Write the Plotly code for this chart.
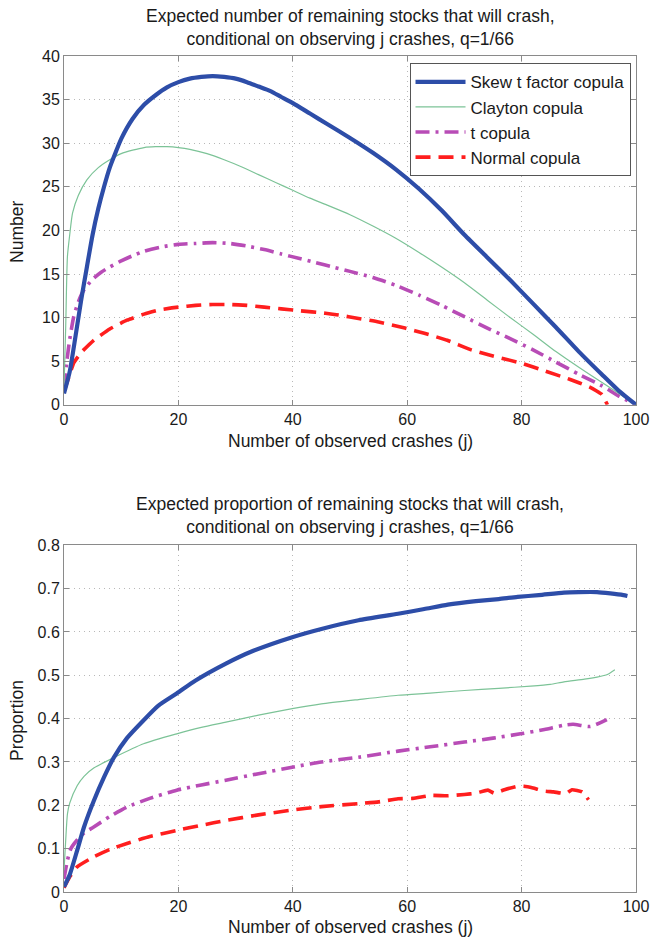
import plotly.graph_objects as go

# ---------------- Top panel data: expected number ----------------
skew_x_top = [0, 1, 2, 3, 4, 5, 6, 7, 8, 9, 10, 12, 14, 16, 18, 20, 22, 24, 26, 28, 30, 32, 34, 36, 38, 40,
              43, 46, 50, 54, 58, 62, 66, 70, 74, 78, 82, 86, 90, 94, 97, 100]
skew_y_top = [1.3, 3.8, 7.8, 12.0, 15.8, 19.5, 22.5, 25.0, 27.2, 28.9, 30.5, 32.8, 34.4, 35.5, 36.4, 37.0, 37.4,
              37.6, 37.7, 37.6, 37.4, 37.0, 36.5, 36.0, 35.3, 34.6, 33.4, 32.2, 30.6, 28.9, 27.0, 24.8, 22.3,
              19.5, 16.9, 14.3, 11.6, 8.9, 6.1, 3.5, 1.6, 0.0]

clay_x_top = [0, 0.3, 0.6, 1, 1.5, 2.5, 4, 6, 8, 10, 12, 14, 16, 18, 20, 22, 25, 28, 31, 34, 37, 40, 43, 46,
              50, 54, 58, 62, 66, 70, 74, 78, 82, 86, 90, 94, 97, 100]
clay_y_top = [2.0, 9.0, 17.0, 19.5, 22.0, 24.0, 25.8, 27.2, 28.1, 28.8, 29.2, 29.5, 29.6, 29.6, 29.5, 29.3,
              28.8, 28.1, 27.3, 26.4, 25.5, 24.6, 23.7, 22.9, 21.8, 20.5, 19.1, 17.5, 15.8, 14.0, 12.0, 10.0,
              8.1, 6.1, 4.3, 2.6, 1.3, 0.0]

tcop_x_top = [0, 0.5, 1, 1.7, 2.5, 3.5, 5, 6.5, 8, 10, 12, 14, 17, 20, 23, 26, 29, 32, 35, 38, 41, 44, 47, 50,
              54, 58, 62, 66, 70, 74, 78, 82, 86, 90, 94, 97, 100]
tcop_y_top = [2.0, 5.0, 7.5, 10.1, 11.8, 13.2, 14.4, 15.2, 15.8, 16.5, 17.1, 17.6, 18.1, 18.4, 18.5, 18.6,
              18.5, 18.2, 17.8, 17.3, 16.8, 16.3, 15.8, 15.3, 14.6, 13.7, 12.6, 11.4, 10.1, 8.8, 7.6, 6.3,
              4.9, 3.5, 2.2, 1.0, 0.0]

norm_x_top = [0, 1, 1.7, 3, 5.2, 8, 11, 14, 16.8, 20, 23, 26, 29, 32, 35, 38, 41, 45.7, 48, 51.5, 55, 59.6,
              63, 67, 71.2, 75, 79.8, 84, 88.5, 92, 94, 95]
norm_y_top = [1.5, 3.5, 4.8, 6.0, 7.4, 8.7, 9.7, 10.4, 10.9, 11.2, 11.4, 11.5, 11.5, 11.4, 11.2, 11.0, 10.8,
              10.5, 10.3, 9.9, 9.5, 8.8, 8.2, 7.4, 6.3, 5.6, 4.8, 3.9, 2.9, 2.0, 1.2, 0.0]

# ---------------- Bottom panel data: expected proportion ----------------
skew_x_bot = [0, 1, 2.3, 3.5, 5.2, 7, 8.7, 11, 13.9, 16.5, 19.7, 23, 28.3, 33, 39.9, 45, 51.5, 58.4, 63,
              67.1, 72, 76, 79.3, 83, 87.4, 90, 93.2, 95.5, 97.8, 98.5]
skew_y_bot = [0.012, 0.04, 0.096, 0.15, 0.21, 0.265, 0.31, 0.355, 0.396, 0.43, 0.458, 0.488, 0.527, 0.556,
              0.588, 0.607, 0.627, 0.642, 0.653, 0.663, 0.671, 0.676, 0.681, 0.685, 0.691, 0.692, 0.692,
              0.689, 0.685, 0.683]

clay_x_bot = [0, 0.3, 0.6, 1, 2.3, 3.5, 5.2, 8.7, 13.9, 19.7, 24, 28.3, 34, 39.9, 45, 51.5, 58.4, 64, 70,
              76, 81.6, 85, 87.4, 91, 93.2, 95, 96.3]
clay_y_bot = [0.05, 0.12, 0.18, 0.205, 0.245, 0.267, 0.286, 0.31, 0.342, 0.365, 0.38, 0.392, 0.408, 0.423,
              0.434, 0.444, 0.454, 0.459, 0.465, 0.47, 0.475, 0.479, 0.485, 0.491, 0.496, 0.502, 0.513]

tcop_x_bot = [0, 0.6, 1.2, 2.3, 3.5, 5.2, 8, 11, 15, 19.7, 24, 28.3, 34, 39.9, 45, 51.5, 58.4, 64, 70, 75,
              79.8, 84, 87.4, 89, 92, 94.9]
tcop_y_bot = [0.03, 0.073, 0.1, 0.12, 0.136, 0.15, 0.174, 0.196, 0.216, 0.235, 0.247, 0.258, 0.273, 0.288,
              0.3, 0.311, 0.325, 0.335, 0.346, 0.355, 0.365, 0.375, 0.385, 0.387, 0.382, 0.398]

norm_x_bot = [0, 1, 2.3, 5.2, 8, 11, 15, 19.7, 24, 28.3, 34, 39.9, 45, 51.5, 55, 58.4, 61, 64.2, 67, 70, 72,
              74.1, 75.2, 77, 79.3, 80.4, 82, 83.9, 85.6, 87.7, 88.8, 90.6, 91.7]
norm_y_bot = [0.01, 0.035, 0.058, 0.081, 0.098, 0.112, 0.128, 0.142, 0.154, 0.165, 0.178, 0.189, 0.197,
              0.204, 0.208, 0.215, 0.216, 0.223, 0.222, 0.225, 0.228, 0.235, 0.228, 0.236, 0.244, 0.244,
              0.240, 0.233, 0.231, 0.227, 0.236, 0.231, 0.213]

series_names = ["Skew t factor copula", "Clayton copula", "t copula", "Normal copula"]
x_ticks = [0, 20, 40, 60, 80, 100]
y_ticks_top = [0, 5, 10, 15, 20, 25, 30, 35, 40]
y_ticks_bot = [0, 0.1, 0.2, 0.3, 0.4, 0.5, 0.6, 0.7, 0.8]
y_ticklabels_bot = ["0", "0.1", "0.2", "0.3", "0.4", "0.5", "0.6", "0.7", "0.8"]

title_top = "Expected number of remaining stocks that will crash,<br>conditional on observing j crashes, q=1/66"
title_bot = "Expected proportion of remaining stocks that will crash,<br>conditional on observing j crashes, q=1/66"
xlabel = "Number of observed crashes (j)"

W, H = 651, 941
FONT = "Liberation Sans"
TXT = "#1a1a1a"

# plot-area box in pixels (left, right, top, bottom)
PL, PR, PT, PB = 63.5, 636.5, 55.7, 891.7
PW, PH = PR - PL, PB - PT


def fx(px):
    return (px - PL) / PW


def fy(py):
    return (PB - py) / PH


styles = [
    dict(color="#2D4DA8", width=4.2, dash="solid", shape="spline", smoothing=0.6),
    dict(color="#7CC397", width=1.2, dash="solid", shape="spline", smoothing=0.6),
    dict(color="#B84CB6", width=3.6, dash="14px,6px,3px,6px", shape="spline", smoothing=0.6),
    dict(color="#FF1E1E", width=3.6, dash="15px,8px", shape="spline", smoothing=0.4),
]

top_data = [(skew_x_top, skew_y_top), (clay_x_top, clay_y_top), (tcop_x_top, tcop_y_top), (norm_x_top, norm_y_top)]
bot_data = [(skew_x_bot, skew_y_bot), (clay_x_bot, clay_y_bot), (tcop_x_bot, tcop_y_bot), (norm_x_bot, norm_y_bot)]

fig = go.Figure()
order = [3, 2, 1, 0]
for i in order:
    xs, ys = top_data[i]
    fig.add_trace(go.Scatter(x=xs, y=ys, mode="lines", name=series_names[i], line=styles[i],
                             xaxis="x", yaxis="y", legendrank=i + 1, showlegend=True))
for i in order:
    xs, ys = bot_data[i]
    fig.add_trace(go.Scatter(x=xs, y=ys, mode="lines", name=series_names[i], line=styles[i],
                             xaxis="x2", yaxis="y2", showlegend=False))

top_dom = [fy(404.5), 1.0]
bot_dom = [0.0, fy(545.0)]

axis_common = dict(
    showline=True, linecolor="#8a8a8a", linewidth=1, mirror="ticks",
    ticks="inside", ticklen=5, tickcolor="#8a8a8a",
    showgrid=True, gridcolor="#b8b8b8", griddash="1px,4px", gridwidth=1,
    zeroline=False, tickfont=dict(family=FONT, size=16, color=TXT),
    automargin=False, ticklabeloverflow="allow",
)

fig.update_layout(
    width=W, height=H,
    margin=dict(l=PL, r=W - PR, t=PT, b=H - PB, autoexpand=False),
    paper_bgcolor="white", plot_bgcolor="white",
    font=dict(family=FONT, size=17, color=TXT),
    xaxis=dict(domain=[0, 1], range=[0, 100], tickvals=x_ticks, anchor="y", **axis_common),
    yaxis=dict(domain=top_dom, range=[0, 40], tickvals=y_ticks_top, anchor="x", **axis_common),
    xaxis2=dict(domain=[0, 1], range=[0, 100], tickvals=x_ticks, anchor="y2", **axis_common),
    yaxis2=dict(domain=bot_dom, range=[0, 0.8], tickvals=y_ticks_bot, ticktext=y_ticklabels_bot,
                anchor="x2", **axis_common),
    legend=dict(x=fx(631), xanchor="right", y=fy(63), yanchor="top",
                bgcolor="white", bordercolor="#555", borderwidth=1,
                font=dict(family=FONT, size=17, color=TXT),
                tracegroupgap=0, itemwidth=50),
    showlegend=True,
)

cx = fx((PL + PR) / 2)
ann = [
    dict(text=title_top, x=cx, y=fy(27), yanchor="middle", size=17.5),
    dict(text=title_bot, x=cx, y=fy(515), yanchor="middle", size=17.5),
    dict(text=xlabel, x=cx, y=fy(441), yanchor="middle", size=17.5),
    dict(text=xlabel, x=cx, y=fy(927), yanchor="middle", size=17.5),
    dict(text="Number", x=fx(17), y=fy(232), yanchor="middle", size=17.5, textangle=-90),
    dict(text="Proportion", x=fx(17), y=fy(720), yanchor="middle", size=17.5, textangle=-90),
]
for a in ann:
    sz = a.pop("size")
    a.update(xref="paper", yref="paper", showarrow=False, xanchor="center",
             font=dict(family=FONT, size=sz, color=TXT))
fig.update_layout(annotations=ann)

fig.write_html("out.html", config={"displayModeBar": False, "staticPlot": True},
               post_script="document.body.style.margin='0';document.body.style.overflow='hidden';")
